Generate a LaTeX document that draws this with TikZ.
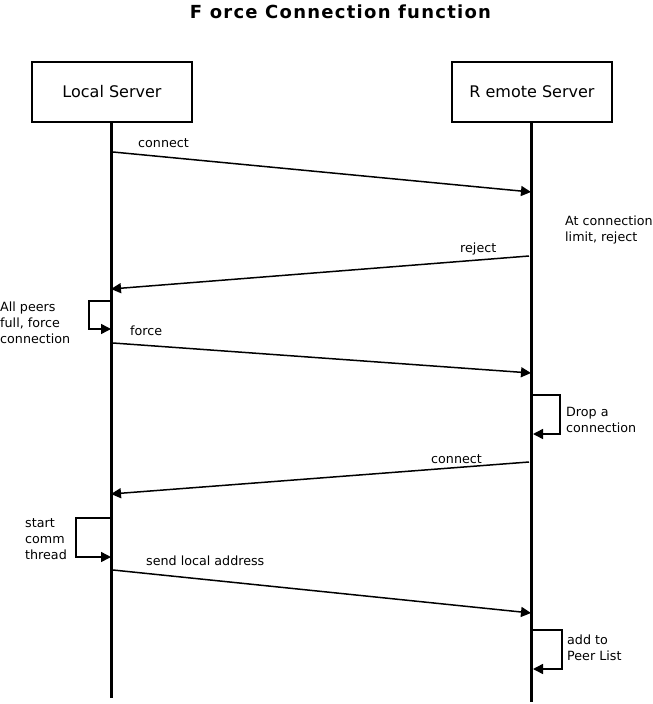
\documentclass[tikz,border=0pt]{standalone}
\usepackage{fontspec}
\setmainfont{DejaVu Sans}
\usetikzlibrary{arrows.meta}
\begin{document}
\begin{tikzpicture}[x=1pt,y=-1pt,
  actor/.style={draw,line width=1.5pt,minimum width=160pt,minimum height=60pt,inner sep=0pt,font=\fontsize{16}{19}\selectfont},
  life/.style={line width=3pt},
  msg/.style={line width=1.5pt,-{Triangle[length=10pt,width=10pt]}},
  lbl/.style={inner sep=0pt,anchor=base west,font=\fontsize{12.7}{16}\selectfont},
  note/.style={inner sep=0pt,align=left,anchor=north west,font=\fontsize{12.7}{16}\selectfont}]
\useasboundingbox (0,0) rectangle (653,704);
% title
\node[inner sep=0pt,anchor=base,font={\fontsize{18}{21}\selectfont\bfseries\addfontfeature{LetterSpace=7}}] (title) at (340.5,18) {F orce Connection function};
% actors
\node[actor] (local) at (112,92) {Local Server};
\node[actor] (remote) at (532,92) {R emote Server};
\coordinate (lend) at (111,698);
\coordinate (rend) at (531,702);
\draw[life] (local.south -| lend) -- (lend);
\draw[life] (remote.south -| rend) -- (rend);
% points on lifelines
\coordinate (a1) at (113,152); \coordinate (b1) at (531,192);
\coordinate (a2) at (529,256); \coordinate (b2) at (111,289);
\coordinate (s1a) at (111,301); \coordinate (s1b) at (111,329);
\coordinate (a3) at (113,343); \coordinate (b3) at (531,373);
\coordinate (s2a) at (533,395); \coordinate (s2b) at (533,434);
\coordinate (a4) at (529,462); \coordinate (b4) at (111,494);
\coordinate (s3a) at (111,518); \coordinate (s3b) at (111,557);
\coordinate (a5) at (113,570); \coordinate (b5) at (531,613);
\coordinate (s4a) at (533,630); \coordinate (s4b) at (533,669);
% messages
\draw[msg] (a1) -- (b1);
\node[lbl] (t1) at (138,147) {connect};
\node[note] (n1) at (565,216) {At connection\\limit, reject};
\draw[msg] (a2) -- (b2);
\node[lbl] (t2) at (460,252) {reject};
\draw[msg] (s1a) -- ++(-22,0) |- (s1b);
\node[note] (n2) at (0,302) {All peers\\full, force\\connection};
\draw[msg] (a3) -- (b3);
\node[lbl] (t3) at (130,335) {force};
\draw[msg] (s2a) -- ++(27,0) |- (s2b);
\node[note] (n3) at (566,407) {Drop a\\connection};
\draw[msg] (a4) -- (b4);
\node[lbl] (t4) at (431,463) {connect};
\draw[msg] (s3a) -- ++(-35,0) |- (s3b);
\node[note] (n4) at (25,518) {start\\comm\\thread};
\draw[msg] (a5) -- (b5);
\node[lbl] (t5) at (146,565) {send local address};
\draw[msg] (s4a) -- ++(29,0) |- (s4b);
\node[note] (n5) at (567,635) {add to\\Peer List};
\end{tikzpicture}
\end{document}
